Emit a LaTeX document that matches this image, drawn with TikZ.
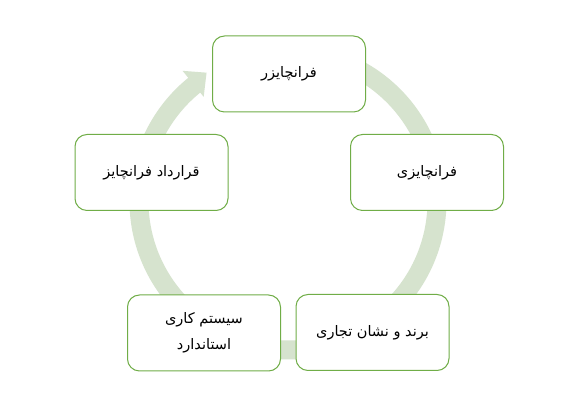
\documentclass[tikz,border=0pt]{standalone}
\usepackage{fontspec}
\usetikzlibrary{calc}
\newfontfamily\arabicfont[Script=Arabic]{DejaVu Sans}
\TeXXeTstate=1
\definecolor{ringcol}{RGB}{214,227,206}
\definecolor{boxcol}{RGB}{112,173,71}
\tikzset{
  stagebox/.style={draw=boxcol, fill=white, line width=1pt, rounded corners=12pt,
    minimum width=153pt, minimum height=76pt, inner sep=0pt, align=center,
    font=\arabicfont\fontsize{14.5}{26.5}\selectfont},
}
\begin{document}
\begin{tikzpicture}[x=1pt,y=1pt]
\useasboundingbox[fill=white] (0,0) rectangle (578,414);
\coordinate (c) at (288,213);
% ring arrow
\draw[ringcol, line width=19pt] ($(c)+(85:149)$) arc[start angle=85, end angle=-231.5, radius=149];
\fill[ringcol] ($(c)+(129:134)$) -- ($(c)+(122.4:152)$) -- ($(c)+(129:167.5)$) -- cycle;
% boxes
\node[stagebox] (top) at (289,340) {\beginR فرانچایزر\endR};
\node[stagebox] (right) at (427,241.5) {\beginR فرانچایزی\endR};
\node[stagebox] (br) at (372.5,81.5) {\beginR برند و نشان تجاری\endR};
\node[stagebox] (bl) at (204,81) {\beginR سیستم کاری\endR\\\beginR استاندارد\endR};
\node[stagebox] (left) at (151.5,241.5) {\beginR قرارداد فرانچایز\endR};
\end{tikzpicture}
\end{document}
